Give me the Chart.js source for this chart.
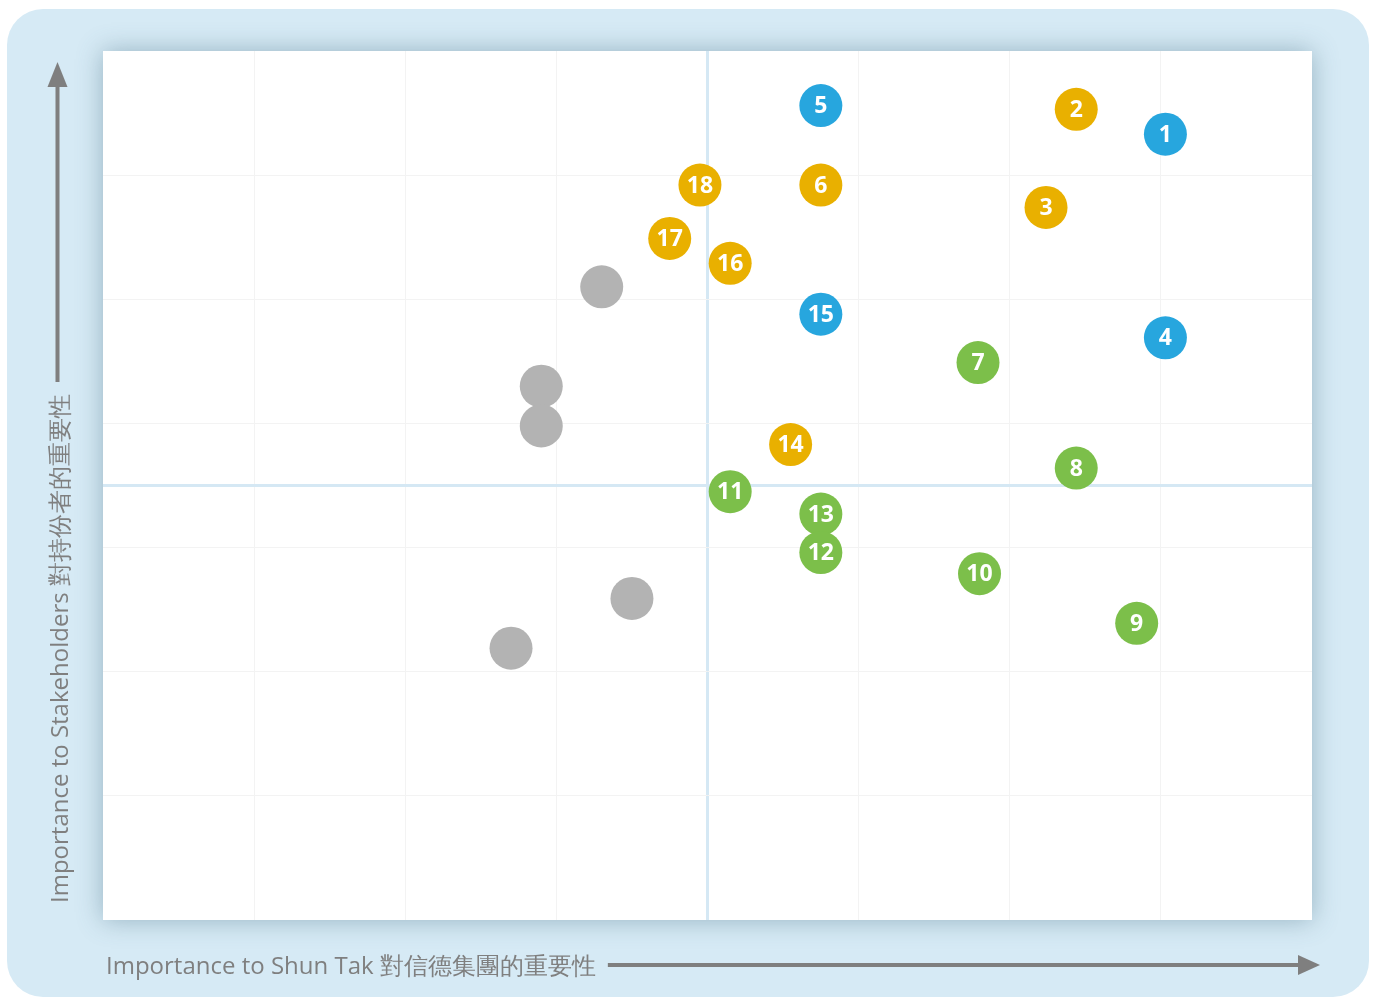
<!DOCTYPE html>
<html>
<head>
<meta charset="utf-8">
<script src="https://cdn.jsdelivr.net/npm/chart.js@4/dist/chart.umd.min.js"></script>
<style>
	body { margin: 0; background: #fff; }
	#wrap { width: 1375px; height: 997px; }
</style>
</head>
<body>
<div id="wrap"><canvas id="matrix" width="1375" height="997"></canvas></div>
<script>
// issue numbers and positions, grouped by colour
var blueIds   = ['1', '4', '5', '15'];
var blueX     = [7.03, 7.03, 4.75, 4.75];
var blueY     = [6.33, 4.69, 6.56, 4.88];

var orangeIds = ['2', '3', '6', '14', '16', '17', '18'];
var orangeX   = [6.44, 6.24, 4.75, 4.55, 4.15, 3.75, 3.95];
var orangeY   = [6.53, 5.74, 5.92, 3.83, 5.29, 5.49, 5.92];

var greenIds  = ['7', '8', '9', '10', '11', '13', '12'];
var greenX    = [5.79, 6.44, 6.84, 5.80, 4.15, 4.75, 4.75];
var greenY    = [4.49, 3.64, 2.39, 2.79, 3.45, 3.27, 2.96];

var greyX     = [3.30, 2.90, 2.90, 3.50, 2.70];
var greyY     = [5.10, 4.30, 3.98, 2.59, 2.19];

var xTicks = [0, 1, 2, 3, 4, 5, 6, 7, 8];
var yTicks = [0, 1, 2, 3, 4, 5, 6, 7];

var xTitle = 'Importance to Shun Tak 對信德集團的重要性';
var yTitle = 'Importance to Stakeholders 對持份者的重要性';

function points(xs, ys, ids){
	var out = [];
	for(var i = 0; i < xs.length; i++){
		out.push({x: xs[i], y: ys[i], id: ids ? ids[i] : ''});
	}
	return out;
}

function dataset(xs, ys, ids, colour){
	return {
		data: points(xs, ys, ids),
		backgroundColor: colour,
		borderWidth: 0,
		pointRadius: 21.5,
		pointHoverRadius: 21.5
	};
}

var panelPlugin = {
	id: 'panel',
	beforeDraw: function(chart){
		var ctx = chart.ctx, a = chart.chartArea;
		ctx.save();
		ctx.fillStyle = '#d6eaf5';
		ctx.beginPath();
		ctx.roundRect(7, 9, 1362, 988, 36);
		ctx.fill();
		ctx.shadowColor = 'rgba(70, 110, 130, 0.45)';
		ctx.shadowBlur = 24;
		ctx.fillStyle = '#ffffff';
		ctx.fillRect(a.left, a.top, a.right - a.left, a.bottom - a.top);
		ctx.restore();
	},
	afterDraw: function(chart){
		var ctx = chart.ctx;
		ctx.save();
		ctx.fillStyle = '#7f7f7f';
		ctx.strokeStyle = '#7f7f7f';
		ctx.lineWidth = 4;
		ctx.font = '24px "Open Sans"';
		ctx.textBaseline = 'middle';

		// x title + arrow
		ctx.textAlign = 'left';
		ctx.fillText(xTitle, 106, 967);
		var w = ctx.measureText(xTitle).width;
		ctx.beginPath();
		ctx.moveTo(106 + w + 12, 965);
		ctx.lineTo(1302, 965);
		ctx.stroke();
		ctx.beginPath();
		ctx.moveTo(1320, 965);
		ctx.lineTo(1298, 955);
		ctx.lineTo(1298, 975);
		ctx.closePath();
		ctx.fill();

		// y title + arrow
		ctx.save();
		ctx.translate(61, 903);
		ctx.rotate(-Math.PI / 2);
		ctx.fillText(yTitle, 0, 0);
		ctx.restore();
		var h = ctx.measureText(yTitle).width;
		ctx.beginPath();
		ctx.moveTo(57.5, 903 - h - 12);
		ctx.lineTo(57.5, 82);
		ctx.stroke();
		ctx.beginPath();
		ctx.moveTo(57.5, 62);
		ctx.lineTo(47.5, 87);
		ctx.lineTo(67.5, 87);
		ctx.closePath();
		ctx.fill();
		ctx.restore();
	}
};

var labelPlugin = {
	id: 'numbers',
	afterDatasetsDraw: function(chart){
		var ctx = chart.ctx;
		ctx.save();
		ctx.fillStyle = '#ffffff';
		ctx.font = 'bold 23px "Open Sans"';
		ctx.textAlign = 'center';
		ctx.textBaseline = 'middle';
		chart.data.datasets.forEach(function(ds, di){
			chart.getDatasetMeta(di).data.forEach(function(pt, i){
				if(ds.data[i].id) ctx.fillText(ds.data[i].id, pt.x, pt.y + 1);
			});
		});
		ctx.restore();
	}
};

var matrixCanvas = document.getElementById('matrix').getContext('2d');
var matrixChart = new Chart(matrixCanvas, {
	type: 'scatter',
	data: {
		datasets: [
			dataset(greyX, greyY, null, '#b3b3b3'),
			dataset(blueX, blueY, blueIds, '#27a6de'),
			dataset(orangeX, orangeY, orangeIds, '#e9b000'),
			dataset(greenX, greenY, greenIds, '#7cbf4a')
		]
	},
	options: {
		responsive: false,
		animation: false,
		events: [],
		layout: { padding: { left: 103, top: 51, right: 63, bottom: 77 } },
		plugins: { legend: { display: false }, tooltip: { enabled: false } },
		scales: {
			x: {
				min: xTicks[0],
				max: xTicks[xTicks.length - 1],
				ticks: { display: false, stepSize: 1 },
				border: { display: false },
				grid: {
					drawTicks: false,
					color: function(c){
						var v = c.tick.value;
						if(v === 4) return '#d5e8f4';
						if(v === xTicks[0] || v === xTicks[xTicks.length - 1]) return 'rgba(0,0,0,0)';
						return '#f3f3f3';
					},
					lineWidth: function(c){ return c.tick.value === 4 ? 3 : 1; }
				}
			},
			y: {
				min: yTicks[0],
				max: yTicks[yTicks.length - 1],
				ticks: { display: false, stepSize: 0.5 },
				border: { display: false },
				grid: {
					drawTicks: false,
					color: function(c){
						var v = c.tick.value;
						if(v === 3.5) return '#d5e8f4';
						if(v === yTicks[0] || v === yTicks[yTicks.length - 1]) return 'rgba(0,0,0,0)';
						if(v % 1 !== 0) return 'rgba(0,0,0,0)';
						return '#f3f3f3';
					},
					lineWidth: function(c){ return c.tick.value === 3.5 ? 3 : 1; }
				}
			}
		}
	},
	plugins: [panelPlugin, labelPlugin]
});
</script>
</body>
</html>
